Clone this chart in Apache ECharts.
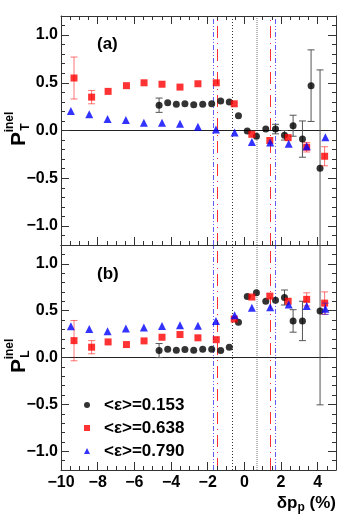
<!DOCTYPE html>
<html>
<head>
<meta charset="utf-8">
<script src="https://cdn.jsdelivr.net/npm/echarts@6/dist/echarts.min.js"></script>
<style>
  html, body { margin: 0; padding: 0; background: #fff; }
  #chart { width: 353px; height: 520px; }
</style>
</head>
<body>
<div id="chart"></div>
<script>
// series names
const names = ['<ε>=0.153', '<ε>=0.638', '<ε>=0.790']

// x positions (δp_p in %)
const xBlack = [-4.65, -4.18, -3.71, -3.24, -2.76, -2.27, -1.78, -1.29, -0.82, -0.32, 0.16, 0.66, 1.17, 1.70, 2.19, 2.66, 3.17, 3.64, 4.13]
const xBlackL = [-4.65, -4.18, -3.71, -3.24, -2.76, -2.27, -1.78, -1.29, -0.82, -0.32, 0.16, 0.66, 1.17, 1.70, 2.19, 2.66, 3.17, 4.13]
const xRed = [-9.29, -8.33, -7.43, -6.43, -5.47, -4.49, -3.51, -2.53, -1.53, -0.55, 0.41, 1.39, 2.39, 3.40, 4.38]
const xBlue = [-9.46, -8.46, -7.46, -6.46, -5.48, -4.49, -3.51, -2.53, -1.55, -0.53, 0.41, 1.41, 2.42, 3.40, 4.42]

// panel (a): P_T
const ptBlack = [0.265, 0.29, 0.275, 0.28, 0.27, 0.275, 0.28, 0.31, 0.30, 0.155, -0.005, -0.06, 0.015, 0.015, -0.05, 0.05, -0.09, 0.47, -0.395]
const ptBlackErr = [0.075, 0.02, 0.02, 0.02, 0.02, 0.02, 0.02, 0.02, 0.02, 0.02, 0.03, 0.02, 0.04, 0.05, 0.05, 0.11, 0.19, 0.375, 1.03]
const ptRed = [0.55, 0.35, 0.41, 0.47, 0.50, 0.485, 0.455, 0.49, 0.50, 0.28, -0.04, -0.105, -0.075, -0.175, -0.27]
const ptRedErr = [0.22, 0.07, 0.02, 0.02, 0.02, 0.02, 0.02, 0.02, 0.02, 0.02, 0.02, 0.03, 0.04, 0.05, 0.10]
const ptBlue = [0.205, 0.17, 0.12, 0.11, 0.08, 0.08, 0.07, 0.04, 0.01, -0.02, -0.12, -0.125, -0.14, -0.165, -0.07]
const ptBlueErr = [0.02, 0.02, 0.02, 0.02, 0.02, 0.02, 0.02, 0.02, 0.02, 0.02, 0.02, 0.02, 0.03, 0.04, 0.04]

// panel (b): P_L
const plBlack = [0.074, 0.088, 0.078, 0.085, 0.078, 0.088, 0.088, 0.074, 0.11, 0.375, 0.65, 0.69, 0.60, 0.61, 0.64, 0.39, 0.39, 0.495]
const plBlackErr = [0.075, 0.02, 0.02, 0.02, 0.02, 0.02, 0.02, 0.02, 0.02, 0.02, 0.04, 0.02, 0.04, 0.04, 0.08, 0.12, 0.21, 1.0]
const plRed = [0.18, 0.11, 0.166, 0.138, 0.177, 0.216, 0.245, 0.21, 0.19, 0.41, 0.645, 0.655, 0.60, 0.62, 0.58]
const plRedErr = [0.215, 0.07, 0.02, 0.02, 0.02, 0.02, 0.02, 0.02, 0.02, 0.02, 0.02, 0.03, 0.03, 0.07, 0.12]
const plBlue = [0.333, 0.305, 0.28, 0.31, 0.32, 0.336, 0.343, 0.34, 0.39, 0.45, 0.53, 0.535, 0.565, 0.55, 0.52]
const plBlueErr = [0.02, 0.02, 0.02, 0.02, 0.02, 0.02, 0.02, 0.02, 0.02, 0.02, 0.02, 0.02, 0.03, 0.03, 0.06]

// vertical reference lines
const blueCuts = [-1.71, 1.66]
const redCuts = [-1.46, 1.39]
const blackCut = [-0.68]
const grayCut = [0.65]

const FONT = '"Liberation Sans", Arial, Helvetica, sans-serif'
const fmtX = v => String(v).replace('-', '\u2212')
const fmtY = v => v.toFixed(1).replace('-', '\u2212')

function xAx(gridIndex, position, interval, tickLen, showLine, showLabel) {
  return {
    type: 'value', gridIndex, position, min: -10, max: 5, interval,
    axisLine: { show: showLine, onZero: false, lineStyle: { color: '#333', width: 1 } },
    axisTick: { show: tickLen > 0, inside: true, length: tickLen, lineStyle: { color: '#333' } },
    axisLabel: {
      show: showLabel, margin: 5, color: '#000', fontSize: 16, fontWeight: 'bold',
      fontFamily: FONT, showMaxLabel: false, formatter: fmtX
    },
    splitLine: { show: false }
  }
}

function yAx(gridIndex, position, minor, showLabel) {
  let ax = {
    type: 'value', gridIndex, position, min: -1.2, max: 1.2,
    axisLine: { show: !minor, onZero: false, lineStyle: { color: '#333', width: 1 } },
    axisTick: { show: true, inside: true, length: minor ? 4 : 8, lineStyle: { color: '#333' } },
    axisLabel: {
      show: showLabel, margin: 3, color: '#000', fontSize: 16, fontWeight: 'bold',
      fontFamily: FONT, showMinLabel: false, showMaxLabel: false, formatter: fmtY
    },
    splitLine: { show: false }
  }
  if (minor) ax.interval = 0.1
  else ax.splitNumber = 5
  return ax
}

function pts(xs, ys) {
  return xs.map((x, i) => [x, ys[i]])
}

function scatter(name, xs, ys, idx, symbol, size, color, z) {
  return {
    type: 'scatter', name, xAxisIndex: idx, yAxisIndex: idx, symbol, symbolSize: size,
    itemStyle: { color }, data: pts(xs, ys), z, silent: true, animation: false
  }
}

function errBars(xs, ys, es, idx, color, z) {
  return {
    type: 'custom', name: 'err', xAxisIndex: idx, yAxisIndex: idx, clip: true, z, silent: true,
    animation: false,
    data: xs.map((x, i) => [x, ys[i], es[i]]),
    renderItem(params, api) {
      const x = api.value(0), y = api.value(1), e = api.value(2)
      const p1 = api.coord([x, y + e]), p2 = api.coord([x, y - e])
      if (Math.abs(p2[1] - p1[1]) < 9) return null
      const hw = 3.5
      const st = { stroke: color, lineWidth: 1 }
      return {
        type: 'group', children: [
          { type: 'line', shape: { x1: p1[0], y1: p1[1], x2: p2[0], y2: p2[1] }, style: st },
          { type: 'line', shape: { x1: p1[0] - hw, y1: p1[1], x2: p1[0] + hw, y2: p1[1] }, style: st },
          { type: 'line', shape: { x1: p2[0] - hw, y1: p2[1], x2: p2[0] + hw, y2: p2[1] }, style: st }
        ]
      }
    }
  }
}

function refLines(idx) {
  const d = []
  blueCuts.forEach(v => d.push({ xAxis: v, lineStyle: { color: '#5c5cff', width: 1, type: [5, 2, 1, 2, 1, 2] } }))
  redCuts.forEach(v => d.push({ xAxis: v, lineStyle: { color: '#ff3030', width: 1, type: [12, 5, 1, 5] } }))
  blackCut.forEach(v => d.push({ xAxis: v, lineStyle: { color: '#333', width: 1, type: [1, 2] } }))
  grayCut.forEach(v => d.push({ xAxis: v, lineStyle: { color: '#bbb', width: 2, type: [1, 1] } }))
  d.push({ yAxis: 0, lineStyle: { color: '#222', width: 1, type: 'solid' } })
  return {
    type: 'scatter', name: 'ref', xAxisIndex: idx, yAxisIndex: idx, data: [], z: 0, silent: true,
    markLine: { silent: true, z: 0, symbol: ['none', 'none'], label: { show: false }, animation: false, data: d }
  }
}

const chart = echarts.init(document.getElementById('chart'), null, { renderer: 'canvas' })

const option = {
  animation: false,
  backgroundColor: '#fff',
  grid: [
    { left: 61, right: 17, top: 16, height: 229 },
    { left: 61, right: 17, top: 245, height: 225 }
  ],
  xAxis: [
    xAx(0, 'bottom', 2, 8, true, false),
    xAx(0, 'bottom', 0.5, 4, false, false),
    xAx(0, 'top', 2, 8, true, false),
    xAx(0, 'top', 0.5, 4, false, false),
    xAx(1, 'bottom', 2, 8, true, true),
    xAx(1, 'bottom', 0.5, 4, false, false),
    xAx(1, 'top', 2, 0, true, false)
  ],
  yAxis: [
    yAx(0, 'left', false, true),
    yAx(0, 'left', true, false),
    yAx(0, 'right', false, false),
    yAx(0, 'right', true, false),
    yAx(1, 'left', false, true),
    yAx(1, 'left', true, false),
    yAx(1, 'right', false, false),
    yAx(1, 'right', true, false)
  ],
  legend: {
    orient: 'vertical', left: 84, top: 396, padding: 0, itemWidth: 6, itemHeight: 6, itemGap: 5,
    selectedMode: false,
    textStyle: { fontSize: 17, fontWeight: 'bold', fontFamily: FONT, color: '#000', lineHeight: 18, padding: [0, 0, 0, 9] },
    data: [
      { name: names[0], icon: 'circle' },
      { name: names[1], icon: 'rect' },
      { name: names[2], icon: 'triangle' }
    ]
  },
  graphic: [
    { type: 'text', x: 97, y: 44, style: { text: '(a)', font: 'bold 17px ' + FONT, fill: '#000', verticalAlign: 'middle' } },
    { type: 'text', x: 97, y: 274, style: { text: '(b)', font: 'bold 17px ' + FONT, fill: '#000', verticalAlign: 'middle' } },
    // y titles (rotated)
    { type: 'text', x: 19, y: 139, rotation: Math.PI / 2, style: { text: 'P', font: 'bold 21px ' + FONT, fill: '#000', align: 'center', verticalAlign: 'middle' } },
    { type: 'text', x: 10, y: 122, rotation: Math.PI / 2, style: { text: 'inel', font: 'bold 12px ' + FONT, fill: '#000', align: 'center', verticalAlign: 'middle' } },
    { type: 'text', x: 26, y: 127, rotation: Math.PI / 2, style: { text: 'T', font: 'bold 12px ' + FONT, fill: '#000', align: 'center', verticalAlign: 'middle' } },
    { type: 'text', x: 19, y: 366, rotation: Math.PI / 2, style: { text: 'P', font: 'bold 21px ' + FONT, fill: '#000', align: 'center', verticalAlign: 'middle' } },
    { type: 'text', x: 10, y: 349, rotation: Math.PI / 2, style: { text: 'inel', font: 'bold 12px ' + FONT, fill: '#000', align: 'center', verticalAlign: 'middle' } },
    { type: 'text', x: 26, y: 354, rotation: Math.PI / 2, style: { text: 'L', font: 'bold 12px ' + FONT, fill: '#000', align: 'center', verticalAlign: 'middle' } },
    // x title
    {
      type: 'text', x: 336, y: 503,
      style: {
        text: '{m|δp}{s|p}{m| (%)}', align: 'right', verticalAlign: 'middle', fill: '#000',
        rich: {
          m: { font: 'bold 17px ' + FONT, lineHeight: 22, fill: '#000' },
          s: { font: 'bold 12px ' + FONT, lineHeight: 12, verticalAlign: 'bottom', fill: '#000' }
        }
      }
    }
  ],
  series: [
    refLines(0),
    refLines(4),
    errBars(xBlack, ptBlack, ptBlackErr, 0, '#555', 2),
    scatter(names[0], xBlack, ptBlack, 0, 'circle', 7, '#000', 3),
    errBars(xRed, ptRed, ptRedErr, 0, 'rgba(255,0,0,0.55)', 4),
    scatter(names[1], xRed, ptRed, 0, 'rect', 7, '#ff0000', 5),
    errBars(xBlue, ptBlue, ptBlueErr, 0, 'rgba(0,0,255,0.5)', 6),
    scatter(names[2], xBlue, ptBlue, 0, 'triangle', 8, '#0000ff', 7),
    errBars(xBlackL, plBlack, plBlackErr, 4, '#555', 2),
    scatter(names[0], xBlackL, plBlack, 4, 'circle', 7, '#000', 3),
    errBars(xRed, plRed, plRedErr, 4, 'rgba(255,0,0,0.55)', 4),
    scatter(names[1], xRed, plRed, 4, 'rect', 7, '#ff0000', 5),
    errBars(xBlue, plBlue, plBlueErr, 4, 'rgba(0,0,255,0.5)', 6),
    scatter(names[2], xBlue, plBlue, 4, 'triangle', 8, '#0000ff', 7)
  ]
}

chart.setOption(option)
</script>
</body>
</html>
